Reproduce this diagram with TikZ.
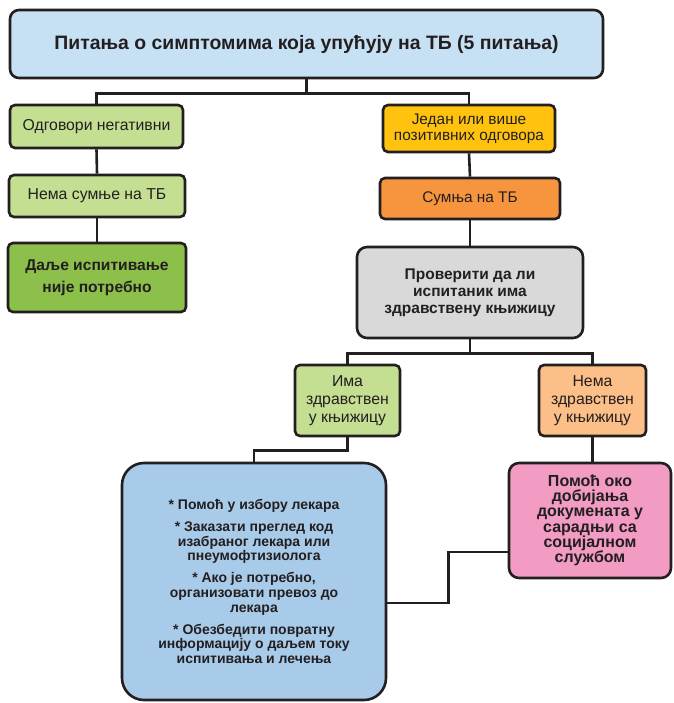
\documentclass[tikz,border=0pt]{standalone}
\usepackage{fontspec}
\setmainfont{Liberation Sans}
\begin{document}
\definecolor{ink}{HTML}{231F20}
\definecolor{skyfill}{HTML}{C6E0F4}
\definecolor{leaf}{HTML}{C4DE92}
\definecolor{moss}{HTML}{8CC04B}
\definecolor{amber}{HTML}{FFC20E}
\definecolor{tang}{HTML}{F7953F}
\definecolor{stone}{HTML}{D9D9DA}
\definecolor{peach}{HTML}{FBBF87}
\definecolor{bluefill}{HTML}{A8CBEA}
\definecolor{rose}{HTML}{F29BC3}
\begin{tikzpicture}[x=1pt,y=-1pt,
  box/.style={draw=ink, line width=2.6pt, rounded corners=5pt, align=center,
    text=ink, inner sep=0pt, font=\fontsize{15.8}{18}\selectfont},
  link/.style={draw=ink, line width=2.6pt}]
\useasboundingbox (0,0) rectangle (673,703);
% question box at the top
\node[box, fill=skyfill, rounded corners=9pt, minimum width=593pt, minimum height=68pt,
  font=\bfseries\fontsize{19.4}{21}\selectfont] (top) at (306.5,44)
  {Питања о симптомима која упућују на ТБ (5 питања)};
% negative branch
\node[box, fill=leaf, minimum width=173pt, minimum height=43pt] (neg) at (96.5,126.5)
  {Одговори негативни};
\node[box, fill=leaf, minimum width=176pt, minimum height=42pt] (nosus) at (97,196)
  {Нема сумње на ТБ};
\node[box, fill=moss, minimum width=178pt, minimum height=69pt,
  font=\bfseries\fontsize{15.6}{22}\selectfont] (done) at (97,277.5)
  {Даље испитивање\\није потребно};
% positive branch
\node[box, fill=amber, minimum width=172pt, minimum height=47pt,
  font=\fontsize{15.4}{16}\selectfont] (pos) at (469,128.5)
  {Један или више\\позитивних одговора};
\node[box, fill=tang, minimum width=180pt, minimum height=41pt,
  font=\fontsize{15.4}{18}\selectfont] (sus) at (470,198.5)
  {Сумња на ТБ};
\node[box, fill=stone, rounded corners=10pt, minimum width=226pt, minimum height=91pt,
  font=\bfseries\fontsize{15.5}{17}\selectfont] (check) at (470,292.5)
  {Проверити да ли\\испитаник има\\здравствену књижицу};
\node[box, fill=leaf, minimum width=105pt, minimum height=71pt] (has) at (347.5,400.5)
  {Има\\здравствен\\у књижицу};
\node[box, fill=peach, minimum width=107pt, minimum height=71pt] (hasnot) at (592.5,400.5)
  {Нема\\здравствен\\у књижицу};
\node[box, fill=bluefill, rounded corners=22pt, minimum width=264pt, minimum height=237pt,
  font=\bfseries\fontsize{14}{14.8}\selectfont] (help) at (254,581.5)
  {* Помоћ у избору лекара\\[7pt]
   * Заказати преглед код\\изабраног лекара или\\пнеумофтизиолога\\[7pt]
   * Ако је потребно,\\организовати превоз до\\лекара\\[7pt]
   * Обезбедити повратну\\информацију о даљем току\\испитивања и лечења};
\node[box, fill=rose, rounded corners=10pt, minimum width=162pt, minimum height=115pt,
  font=\bfseries\fontsize{16}{15.3}\selectfont] (social) at (590,520.5)
  {Помоћ око\\добијања\\докумената у\\сарадњи са\\социјалном\\службом};
% connectors
\draw[link] (top.south) -- ++(0,14) coordinate (split1);
\draw[link] (split1) -| (neg.north);
\draw[link] (split1) -| (pos.north);
\draw[link] (neg.south) -- (nosus.north);
\draw[link] (nosus.south) -- (done.north);
\draw[link] (pos.south) -- (sus.north);
\draw[link] (sus.south) -- (check.north);
\draw[link] (check.south) -- ++(0,14) coordinate (split2);
\draw[link] (split2) -| (has.north);
\draw[link] (split2) -| (hasnot.north);
\draw[link] (has.south) -- ++(0,13) -| (help.north);
\draw[link] (hasnot.south) -- (hasnot.south |- social.north);
\draw[link] ([yshift=-31.5pt]social.west) -- ++(-59,0) |- ([yshift=-21.5pt]help.east);
\end{tikzpicture}
\end{document}
